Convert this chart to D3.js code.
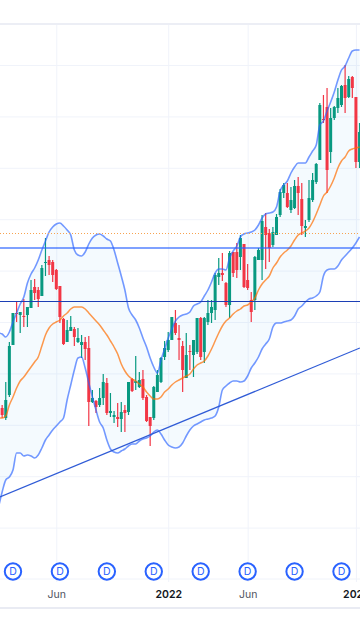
<!DOCTYPE html>
<html>
<head>
<meta charset="utf-8">
<style>
  html, body { margin: 0; padding: 0; background: #fff; overflow: hidden; }
  text { font-family: Inter, "Noto Sans", sans-serif; }
</style>
<script src="https://cdn.jsdelivr.net/npm/d3@7"></script>
</head>
<body>
<div class="container_main"></div>
<script>
// weekly candles (price units are arbitrary, no price axis is visible)
const open = [171,161,184,234,266,264,263,264,271,292,289,283,316,319,317,309,293,260,237,248,250,237,234,237,231,177,178,174,181,196,166,162,162,160,169,167,200,196,192,200,182,162,161,187,197,222,229,239,256,241,233,201,228,224,227,261,227,257,266,269,302,306,296,274,327,327,322,335,299,279,279,319,319,352,346,334,344,364,386,386,369,371,393,380,351,359,379,397,419,460,472,427,461,471,474,494,482,502,482,417];
const close = [164,179,233,266,265,267,262,272,289,286,280,311,317,314,304,290,262,235,249,252,242,241,237,230,177,181,172,181,197,166,168,164,160,167,166,197,188,198,199,181,158,153,192,204,221,231,239,262,246,239,209,224,227,239,261,222,261,266,272,304,306,304,274,326,306,309,341,292,291,267,322,329,358,344,331,347,362,387,394,372,379,393,386,353,353,381,399,415,474,459,409,461,472,481,493,481,500,491,417,447];
const high = [174,197,237,266,277,267,280,272,299,300,292,314,341,323,319,310,293,261,259,263,252,251,244,242,243,189,179,191,205,201,186,168,176,177,174,197,201,223,207,209,184,162,193,209,222,238,247,262,269,254,238,246,234,239,261,262,262,279,279,306,321,326,297,328,327,336,344,335,315,287,323,331,364,366,350,352,365,390,396,396,392,399,402,396,359,399,406,416,476,484,491,471,473,491,494,514,503,503,482,456];
const low = [161,159,182,234,257,246,252,252,271,279,272,283,303,304,297,289,256,234,237,248,233,236,221,219,153,176,166,172,174,164,162,156,152,147,147,164,187,189,191,179,157,133,159,187,196,219,227,239,244,219,187,201,209,202,225,219,216,254,256,259,294,298,272,261,302,301,309,291,289,257,269,319,299,310,317,332,344,362,381,371,366,370,364,344,342,357,377,395,419,456,386,416,459,466,472,466,481,481,411,411];

// bollinger bands, first value is the week just left of the picture
const upperBand = [246,245,242,247,257,266,275,282,296,305,311,319,329,338,347,352,355,356,353,349,344,329,324,323,327,335,341,344,345,343,340,338,329,316,303,289,271,264,259,251,241,232,221,212,206,219,230,241,250,258,262,264,265,267,273,275,277,283,289,297,306,310,310,309,321,328,333,342,345,346,347,349,354,361,365,366,367,372,388,394,398,406,412,416,416,416,422,428,434,454,458,468,477,487,499,509,513,521,528,529,529];
const basisLine = [161,161,163,174,182,191,198,202,207,212,217,222,233,244,251,255,257,259,263,266,270,272,272,272,270,266,262,258,254,249,244,238,232,225,215,208,203,200,198,195,192,187,183,180,180,182,187,190,194,197,199,201,203,205,210,214,216,218,223,230,238,246,253,258,261,265,268,270,273,274,277,281,289,295,299,303,311,316,322,326,329,333,339,344,346,348,351,357,365,374,383,387,393,401,411,418,422,428,430,431,432];
const lowerBand = [72,87,99,102,109,126,126,123,124,123,121,124,131,139,144,149,153,157,161,179,194,209,221,222,211,196,182,169,157,151,139,130,127,126,128,130,133,135,135,138,140,141,143,147,149,145,139,134,132,131,132,136,143,149,153,155,157,159,160,161,163,172,189,193,196,198,198,197,198,203,211,216,222,230,235,240,252,256,256,257,258,259,263,270,273,277,280,281,283,287,303,309,310,310,313,319,323,327,331,336,342];

// drawn levels and the rising trend line
const levelThick = 331;
const levelDotted = 345.5;
const levelDark = 278;
const trendWeeks = [-0.6, 99.1];
const trendPrices = [82, 231];

// time axis and dividend flags
const tickWeeks = [15, 46, 68, 98];
const tickLabels = ["Jun", "2022", "Jun", "2023"];
const yearLabels = ["2022", "2023"];
const dividendWeeks = [3, 16, 29, 42, 55, 68, 81, 94];
const dividendLabel = "D";
const gridPrices = [51.4, 102.8, 154.2, 205.6, 257, 308.4, 359.8, 411.2, 462.6, 514];

let svgwidth = 360;
let svgheight = 640;
let plotTop = 24;
let plotBottom = 579;

let svg = d3.select('.container_main')
    .append("svg")
    .attr("width", svgwidth)
    .attr("height", svgheight)
    .style("display", "block");

let posX = d3.scaleLinear().domain([0, 98]).range([2.15, 355.93]);
let posY = d3.scaleLinear().domain([0, 555]).range([plotBottom, plotTop]);

const gridColor = "#f0f3fa";

// grid, through the axes
let yGrid = svg.append("g").call(d3.axisLeft(posY).tickValues(gridPrices).tickSize(-svgwidth).tickFormat(""));
yGrid.select(".domain").remove();
yGrid.selectAll("line").attr("stroke", gridColor);

let xGrid = svg.append("g")
    .attr("transform", "translate(0," + (plotBottom + 3) + ")")
    .call(d3.axisTop(posX).tickValues(tickWeeks).tickSize(plotBottom + 3 - plotTop).tickFormat(""));
xGrid.select(".domain").remove();
xGrid.selectAll("line").attr("stroke", gridColor);

// frame
svg.append("line").attr("x1", 0).attr("x2", svgwidth).attr("y1", plotTop).attr("y2", plotTop)
    .attr("stroke", "#eceef5").attr("stroke-width", 2);
svg.append("line").attr("x1", 0).attr("x2", svgwidth).attr("y1", plotBottom).attr("y2", plotBottom)
    .attr("stroke", gridColor);
svg.append("line").attr("x1", 0).attr("x2", svgwidth).attr("y1", 608).attr("y2", 608)
    .attr("stroke", "#e9ebf3").attr("stroke-width", 2);

// band fill
let bandArea = d3.area()
    .x(function(d, i) { return posX(i - 1); })
    .y0(function(d, i) { return posY(lowerBand[i]); })
    .y1(function(d) { return posY(d); })
    .curve(d3.curveMonotoneX);
svg.append("path").datum(upperBand)
    .attr("d", bandArea)
    .attr("fill", "#2196f3").attr("fill-opacity", 0.05);

// candles
const upColor = "#089981";
const downColor = "#f23645";
let candles = svg.selectAll(".candle")
    .data(open)
    .enter()
    .append("g")
    .attr("class", "candle")
    .attr("fill", function(d, i) { return close[i] >= open[i] ? upColor : downColor; });

candles.append("rect")
    .attr("x", function(d, i) { return posX(i) - 0.6; })
    .attr("width", 1.2)
    .attr("y", function(d, i) { return posY(high[i]); })
    .attr("height", function(d, i) { return posY(low[i]) - posY(high[i]); });

candles.append("rect")
    .attr("x", function(d, i) { return posX(i) - 1.5; })
    .attr("width", 3)
    .attr("y", function(d, i) { return posY(Math.max(open[i], close[i])); })
    .attr("height", function(d, i) { return Math.max(1, Math.abs(posY(open[i]) - posY(close[i]))); });

// band lines
let bandLine = d3.line()
    .x(function(d, i) { return posX(i - 1); })
    .y(function(d) { return posY(d); })
    .curve(d3.curveMonotoneX);

svg.append("path").attr("d", bandLine(upperBand))
    .attr("fill", "none").attr("stroke", "#2962ff").attr("stroke-opacity", 0.65).attr("stroke-width", 1.6);
svg.append("path").attr("d", bandLine(lowerBand))
    .attr("fill", "none").attr("stroke", "#2962ff").attr("stroke-opacity", 0.65).attr("stroke-width", 1.6);
svg.append("path").attr("d", bandLine(basisLine))
    .attr("fill", "none").attr("stroke", "#ff6d00").attr("stroke-opacity", 0.7).attr("stroke-width", 1.5);

// drawn lines
svg.append("line").attr("x1", 0).attr("x2", svgwidth).attr("y1", posY(levelDotted)).attr("y2", posY(levelDotted))
    .attr("stroke", "#f7a350").attr("stroke-width", 1).attr("stroke-dasharray", "1,2");
svg.append("line").attr("x1", 0).attr("x2", svgwidth).attr("y1", posY(levelThick)).attr("y2", posY(levelThick))
    .attr("stroke", "#2962ff").attr("stroke-opacity", 0.6).attr("stroke-width", 2);
svg.append("line").attr("x1", 0).attr("x2", svgwidth).attr("y1", posY(levelDark)+0.5).attr("y2", posY(levelDark)+0.5)
    .attr("stroke", "#1c3fb5").attr("stroke-width", 1);
svg.append("line")
    .attr("x1", posX(trendWeeks[0])).attr("x2", posX(trendWeeks[1]))
    .attr("y1", posY(trendPrices[0])).attr("y2", posY(trendPrices[1]))
    .attr("stroke", "#2f5bd6").attr("stroke-width", 1.2);

// dividend flags
let flags = svg.selectAll(".flag")
    .data(dividendWeeks)
    .enter()
    .append("g")
    .attr("class", "flag")
    .attr("transform", function(d) { return "translate(" + posX(d) + ",571.5)"; });
flags.append("circle")
    .attr("r", 8.2)
    .attr("fill", "#fff")
    .attr("stroke", "#2962ff")
    .attr("stroke-width", 2);
flags.append("text")
    .attr("text-anchor", "middle")
    .attr("dy", "0.36em")
    .attr("font-size", 10.5)
    .attr("fill", "#2962ff")
    .text(dividendLabel);

// time axis
let xAxis = svg.append("g")
    .attr("transform", "translate(0," + plotBottom + ")")
    .call(d3.axisBottom(posX).tickValues(tickWeeks).tickSize(0).tickPadding(12)
        .tickFormat(function(d, i) { return tickLabels[i]; }));
xAxis.select(".domain").remove();
xAxis.selectAll("text")
    .attr("font-family", null)
    .attr("font-size", 10.5)
    .attr("fill", function(d, i) { return yearLabels.includes(tickLabels[i]) ? "#131722" : "#50535e"; })
    .attr("font-weight", function(d, i) { return yearLabels.includes(tickLabels[i]) ? 600 : 400; });
</script>
</body>
</html>
